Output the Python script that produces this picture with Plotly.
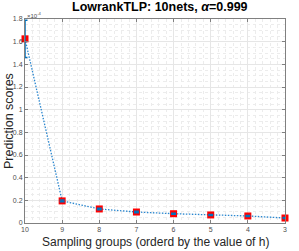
import plotly.graph_objects as go

groups = [10, 9, 8, 7, 6, 5, 4, 3]
scores = [1.625, 0.195, 0.124, 0.097, 0.082, 0.071, 0.062, 0.044]  # x 1e-4
errors = [0.165, 0.008, 0.007, 0.006, 0.005, 0.005, 0.004, 0.004]
x_ticks = [10, 9, 8, 7, 6, 5, 4, 3]
y_ticks = [0, 0.2, 0.4, 0.6, 0.8, 1.0, 1.2, 1.4, 1.6, 1.8]
y_tick_labels = ["0", "0.2", "0.4", "0.6", "0.8", "1", "1.2", "1.4", "1.6", "1.8"]

blue = "#0072BD"
fig = go.Figure()
fig.add_trace(go.Scatter(
    x=groups, y=scores, mode="lines+markers",
    line=dict(color="#2b87cf", width=1.3, dash="1.5px,1.5px"),
    marker=dict(symbol="square", size=7, color="#FF0000", line=dict(width=0)),
    showlegend=False, cliponaxis=False,
))
fig.add_trace(go.Scatter(
    x=groups, y=scores, mode="markers",
    marker=dict(size=1, color="rgba(0,0,0,0)"),
    error_y=dict(type="data", array=errors, color=blue, thickness=1.5, width=2.5),
    showlegend=False, cliponaxis=False,
))

font = "Liberation Sans, Arial, Helvetica, sans-serif"
fig.update_layout(
    width=299, height=251,
    margin=dict(l=25, r=14, t=19, b=28),
    paper_bgcolor="white", plot_bgcolor="white",
    font=dict(family=font, color="#262626"),
    title=dict(text="<b>LowrankTLP: 10nets, <i>α</i>=0.999</b>",
               x=155/299, xref="paper", xanchor="center", y=0.99, yanchor="top",
               font=dict(size=12.5, color="#000000")),
    xaxis=dict(
        range=[10.0001, 2.9999], tickvals=x_ticks, ticktext=[str(v) for v in x_ticks],
        tickfont=dict(size=7, color="#4d4d4d"),
        ticks="inside", ticklen=3, tickcolor="#808080",
        showline=True, linecolor="#808080", linewidth=1, mirror="ticks",
        showgrid=True, gridcolor="#e6e6e6", gridwidth=1, zeroline=False,
        minor=dict(dtick=0.2, showgrid=True, gridcolor="#ececec", griddash="dot", gridwidth=0.7),
        automargin=False,
    ),
    yaxis=dict(
        range=[0, 1.8], tickvals=y_ticks, ticktext=y_tick_labels,
        tickfont=dict(size=7, color="#4d4d4d"),
        ticks="inside", ticklen=3, tickcolor="#808080",
        showline=True, linecolor="#808080", linewidth=1, mirror="ticks",
        showgrid=True, gridcolor="#e6e6e6", gridwidth=1, zeroline=False,
        minor=dict(dtick=0.05, showgrid=True, gridcolor="#ececec", griddash="dot", gridwidth=0.7),
        automargin=False,
    ),
)
fig.add_annotation(text="Prediction scores", xref="paper", yref="paper",
                   x=-25/260, y=0.5, xanchor="left", yanchor="middle", textangle=-90,
                   showarrow=False, xshift=0, font=dict(size=12.5, color="#262626"))
fig.add_annotation(text="Sampling groups (orderd by the value of h)", xref="paper", yref="paper",
                   x=0.5, y=0, xanchor="center", yanchor="top", yshift=-10,
                   showarrow=False, font=dict(size=12, color="#262626"))
fig.add_annotation(text="×10<sup>-4</sup>", xref="paper", yref="paper", x=0, y=1.0,
                   xanchor="left", yanchor="bottom", showarrow=False,
                   font=dict(size=6, color="#4d4d4d"), yshift=-2)
fig.write_html("out.html", config={"displayModeBar": False},
               post_script="document.body.style.margin='0';")
